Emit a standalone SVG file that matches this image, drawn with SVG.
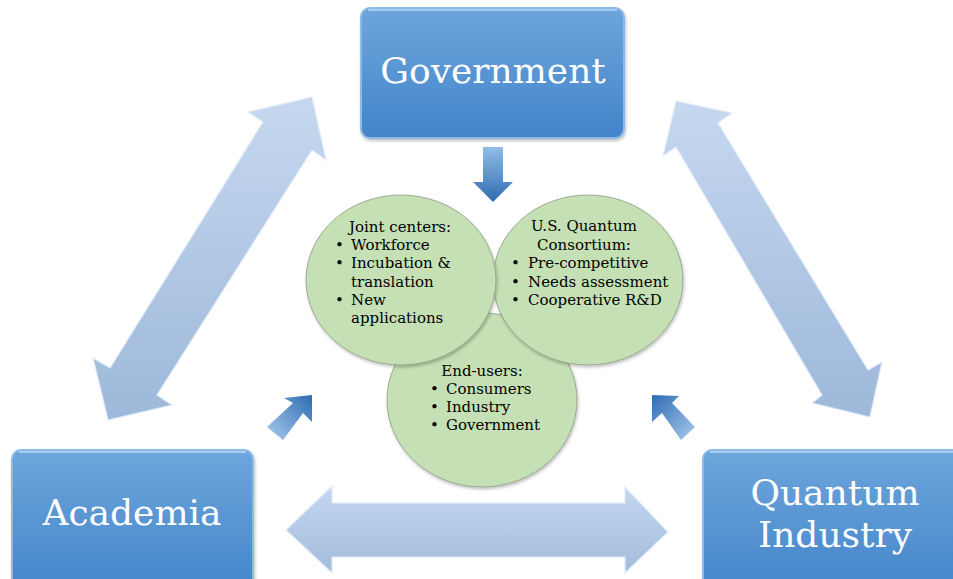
<svg xmlns="http://www.w3.org/2000/svg" width="953" height="579" viewBox="0 0 953 579">
<defs>
<linearGradient id="boxGrad" x1="0" y1="0" x2="0" y2="1">
<stop offset="0" stop-color="#6ea6dc"/>
<stop offset="1" stop-color="#4284c9"/>
</linearGradient>
<linearGradient id="bigArrowGrad" x1="0" y1="0" x2="0" y2="1">
<stop offset="0" stop-color="#c6d8ef"/>
<stop offset="1" stop-color="#9db8da"/>
</linearGradient>
<linearGradient id="hArrowGrad" x1="0" y1="0" x2="0" y2="1">
<stop offset="0" stop-color="#c4d7ef"/>
<stop offset="1" stop-color="#a3bcdc"/>
</linearGradient>
<linearGradient id="downGrad" x1="0" y1="0" x2="0" y2="1">
<stop offset="0" stop-color="#92bde7"/>
<stop offset="1" stop-color="#2f6cb2"/>
</linearGradient>
<linearGradient id="diagL" x1="0" y1="1" x2="1" y2="0">
<stop offset="0" stop-color="#a9cbee"/>
<stop offset="1" stop-color="#2e6cb3"/>
</linearGradient>
<linearGradient id="diagR" x1="1" y1="1" x2="0" y2="0">
<stop offset="0" stop-color="#a9cbee"/>
<stop offset="1" stop-color="#2e6cb3"/>
</linearGradient>
<filter id="shadow" x="-10%" y="-10%" width="120%" height="120%">
<feDropShadow dx="1" dy="2" stdDeviation="1.5" flood-color="#000" flood-opacity="0.25"/>
</filter>
</defs>
<style>
.box{fill:url(#boxGrad);stroke:#8dbbe8;stroke-width:2;filter:url(#shadow)}
.boxhl{fill:none;stroke:#b9d8f5;stroke-width:1.5}
.lbl{font-family:"DejaVu Serif",serif;font-size:36px;fill:#ffffff;text-anchor:middle}
.circ{fill:#c5e0b4;stroke:#8a9a80;stroke-width:0.8;filter:url(#shadow)}
.t{font-family:"DejaVu Serif",serif;font-size:15px;fill:#000000}
.c{text-anchor:middle}
.big{fill:url(#bigArrowGrad);stroke:#e2ecf8;stroke-width:1.2}
.hbig{fill:url(#hArrowGrad);stroke:#e2ecf8;stroke-width:1.2}
</style>
<rect width="953" height="579" fill="#ffffff"/>

<g id="connectors">
<polygon class="big" points="312,97 326,160 312,150 157,395 172,405 108,420 93,358 110,368 263,122 248,112"/>
<polygon class="big" points="676,101 732,113 718,123 868,370 882,362 870,417 812,403 822,395 676,147 663,156"/>
<polygon class="hbig" points="286,530 332,486 332,503 625,503 625,487 668,532 625,573 625,557 332,557 332,573"/>
<polygon fill="url(#downGrad)" points="483,147 503,147 503,182 513,182 493,202 473,182 483,182"/>
<polygon fill="url(#diagL)" points="312,395 312,422 303,413 283,440 267,427 293,403 284,398"/>
<polygon fill="url(#diagR)" points="652,395 679,396 672,403 695,427 681,440 662,413 652,422"/>
</g>

<g id="government">
<rect class="box" x="361" y="8" width="263" height="130" rx="9"/>
<path class="boxhl" d="M368,10 H617"/>
<text class="lbl" x="493" y="83">Government</text>
</g>

<g id="academia">
<rect class="box" x="12" y="450" width="241" height="145" rx="9"/>
<path class="boxhl" d="M19,452 H246"/>
<text class="lbl" x="132" y="525">Academia</text>
</g>

<g id="quantum-industry">
<rect class="box" x="703" y="450" width="262" height="145" rx="9"/>
<path class="boxhl" d="M710,452 H958"/>
<text class="lbl" x="835" y="505">Quantum</text>
<text class="lbl" x="835" y="547">Industry</text>
</g>

<g id="end-users">
<ellipse class="circ" cx="482" cy="400" rx="95" ry="87"/>
<text class="t c" x="482" y="376">End-users:</text>
<text class="t" x="430" y="394">•</text><text class="t" x="446" y="394">Consumers</text>
<text class="t" x="430" y="412">•</text><text class="t" x="446" y="412">Industry</text>
<text class="t" x="430" y="430">•</text><text class="t" x="446" y="430">Government</text>
</g>

<g id="us-quantum-consortium">
<ellipse class="circ" cx="588" cy="280" rx="95" ry="85"/>
<text class="t c" x="584" y="231">U.S. Quantum</text>
<text class="t c" x="584" y="250">Consortium:</text>
<text class="t" x="511" y="268">•</text><text class="t" x="528" y="268">Pre-competitive</text>
<text class="t" x="511" y="287">•</text><text class="t" x="528" y="287">Needs assessment</text>
<text class="t" x="511" y="305">•</text><text class="t" x="528" y="305">Cooperative R&amp;D</text>
</g>

<g id="joint-centers">
<ellipse class="circ" cx="401" cy="280" rx="95" ry="85"/>
<text class="t" x="349" y="232">Joint centers:</text>
<text class="t" x="335" y="250">•</text><text class="t" x="351" y="250">Workforce</text>
<text class="t" x="335" y="268">•</text><text class="t" x="351" y="268">Incubation &amp;</text>
<text class="t" x="351" y="287">translation</text>
<text class="t" x="335" y="305">•</text><text class="t" x="351" y="305">New</text>
<text class="t" x="351" y="323">applications</text>
</g>
</svg>
